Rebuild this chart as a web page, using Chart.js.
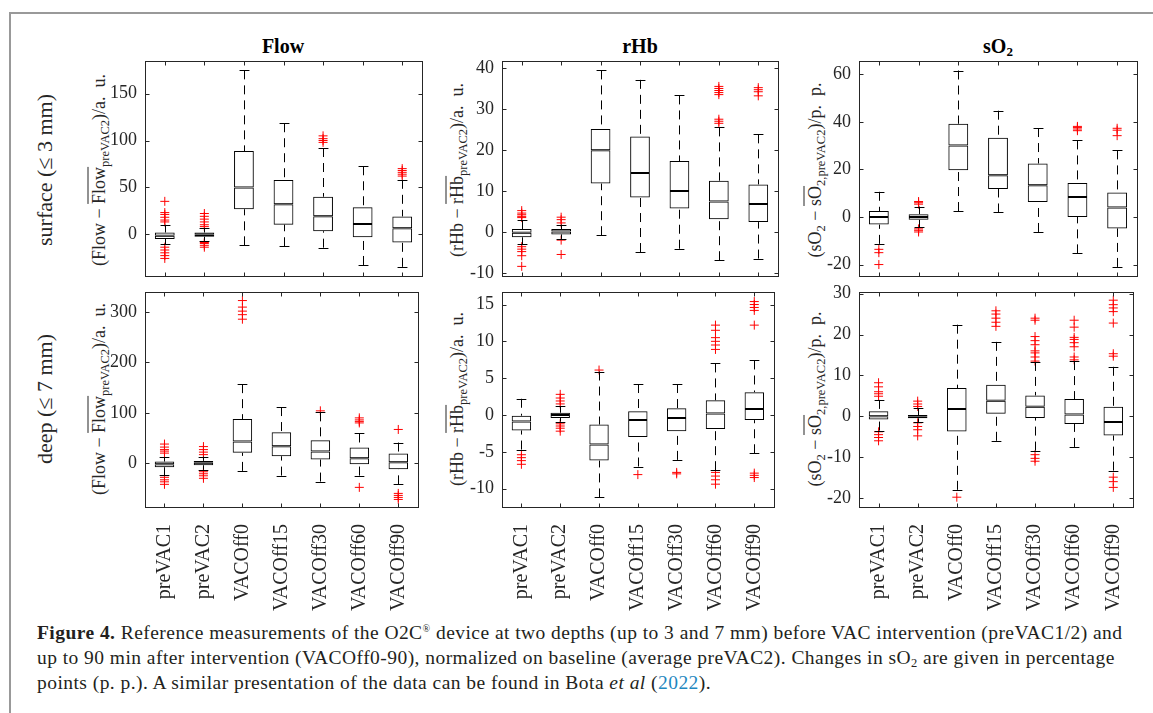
<!DOCTYPE html>
<html>
<head>
<meta charset="utf-8">
<script src="https://cdn.jsdelivr.net/npm/chart.js@4.4.1/dist/chart.umd.min.js"></script>
<style>
  html, body { margin: 0; padding: 0; background: #fff; overflow: hidden; width: 1153px; height: 713px; }
  #frame { position: absolute; left: 9px; top: 12px; width: 1300px; height: 900px; border-left: 2px solid #999; border-top: 2px solid #999; }
  canvas.panel { position: absolute; }
  .rot { position: absolute; font-family: 'Liberation Serif', serif; color: #262626; white-space: nowrap;
         transform: translate(-50%, -50%) rotate(-90deg); }
  .ytitle { font-size: 18px; }
  .ytitle sub { font-size: 12.5px; vertical-align: -4px; line-height: 0; }
  .ol { text-decoration: overline; }
  .row { font-size: 22px; }
  .ptitle { position: absolute; font-family: 'Liberation Serif', serif; font-weight: bold; font-size: 20px; color: #000;
            transform: translate(-50%, -50%); white-space: nowrap; }
  .ptitle sub { font-size: 13px; vertical-align: -3px; line-height: 0; }
  #caption { position: absolute; left: 37px; top: 620px; font-family: 'Liberation Serif', serif; font-size: 19.5px;
             letter-spacing: 0.45px; line-height: 25px; color: #231f20; white-space: nowrap; }
  #caption sub { font-size: 12.5px; vertical-align: -3px; line-height: 0; }
  #caption sup { font-size: 10px; vertical-align: 7px; line-height: 0; }
  #caption a { color: #1f87c0; text-decoration: none; }
</style>
</head>
<body>
<div id="frame"></div>

<div class="ptitle" style="left:283px; top:46px;">Flow</div>
<div class="ptitle" style="left:640px; top:46px;">rHb</div>
<div class="ptitle" style="left:998px; top:46px;">sO<sub>2</sub></div>

<div class="rot row" style="left:45px; top:170px;">surface (&le; 3 mm)</div>
<div class="rot row" style="left:45px; top:399px;">deep (&le; 7 mm)</div>

<div class="rot ytitle" style="left:99px; top:170px;">(Flow &minus; <span class="ol">Flow</span><sub>preVAC2</sub>)/a.&nbsp; u.</div>
<div class="rot ytitle" style="left:457px; top:170px;">(rHb &minus; <span class="ol">rHb</span><sub>preVAC2</sub>)/a.&nbsp; u.</div>
<div class="rot ytitle" style="left:815px; top:170px;">(sO<sub>2</sub> &minus; <span class="ol">sO</span><sub>2,preVAC2</sub>)/p.&nbsp; p.</div>
<div class="rot ytitle" style="left:99px; top:399px;">(Flow &minus; <span class="ol">Flow</span><sub>preVAC2</sub>)/a.&nbsp; u.</div>
<div class="rot ytitle" style="left:457px; top:399px;">(rHb &minus; <span class="ol">rHb</span><sub>preVAC2</sub>)/a.&nbsp; u.</div>
<div class="rot ytitle" style="left:815px; top:399px;">(sO<sub>2</sub> &minus; <span class="ol">sO</span><sub>2,preVAC2</sub>)/p.&nbsp; p.</div>

<div id="caption"><b>Figure 4.</b> Reference measurements of the O2C<sup>&reg;</sup> device at two depths (up to 3 and 7 mm) before VAC intervention (preVAC1/2) and<br>up to 90 min after intervention (VACOff0-90), normalized on baseline (average preVAC2). Changes in sO<sub>2</sub> are given in percentage<br>points (p. p.). A similar presentation of the data can be found in Bota <i>et al</i> (<a>2022</a>).</div>

<script>
const categories = ['preVAC1', 'preVAC2', 'VACOff0', 'VACOff15', 'VACOff30', 'VACOff60', 'VACOff90'];

// box stats per category: [lower whisker, q1, median, q3, upper whisker]
const flowSurface = [[-11, -5.2, -1.7, 1.7, 10], [-7, -2.8, -0.7, 1.7, 6], [-12, 26.6, 49.7, 88.8, 175],
  [-13, 10.1, 31.8, 57.7, 118.5], [-14.5, 3.1, 19.2, 39.9, 92], [-33, -3.5, 10.8, 28.7, 72.5], [-35, -9.1, 6.3, 18.9, 58]];
const flowSurfaceOut = [[35, 23, 21, 18, 15, 13, -14, -17, -20, -23, -26], [22, 19, 16, 13, 10, 8, -9, -10, -12, -14],
  [], [], [98, 100, 102, 105], [], [62, 64, 66, 68, 70]];
const flowSurfaceTicks = [0, 50, 100, 150];

const rhbSurface = [[-3, -1.3, -0.2, 0.7, 2.8], [-1.7, -0.6, 0.1, 0.7, 1.8], [-0.8, 11.8, 19.9, 25.1, 39.4],
  [-4.9, 8.4, 14.4, 23.3, 37.1], [-4.1, 5.7, 10, 17.3, 33.3], [-6.9, 3.1, 7.4, 12.5, 25.5], [-6.5, 2.4, 6.8, 11.6, 23.8]];
const rhbSurfaceOut = [[5.2, 4.6, 4.2, 3.8, 3.5, -3.6, -4.2, -4.8, -5.8, -8.4], [3.6, 3, 2.2, -2, -5.5],
  [], [], [], [26.5, 27, 27.5, 33.5, 34, 34.5, 35, 35.5], [33.2, 34.2, 34.7, 35.2]];
const rhbSurfaceTicks = [-10, 0, 10, 20, 30, 40];

const so2Surface = [[-11.3, -3.2, 0, 2.5, 10.6], [-4.3, -1.2, 0, 1.2, 4.4], [2.5, 19.7, 30.1, 39.2, 61.6],
  [1.9, 11.8, 17.6, 33.3, 44.7], [-6.3, 6.3, 13.3, 22.5, 37.4], [-15.3, 0, 8.4, 14.3, 32.2], [-21, -4.8, 4, 10.3, 28]];
const so2SurfaceOut = [[-13.6, -15, -20], [5.4, 6, 6.5, -5, -5.6, -6.3], [], [], [], [36.3, 37, 37.6, 38.1], [34.2, 36.5, 37.3]];
const so2SurfaceTicks = [-20, 0, 20, 40, 60];

const flowDeep = [[-24, -8, -2, 3.3, 12], [-13, -4, 0.7, 4.6, 13], [-15.3, 20.6, 43.1, 87.6, 157],
  [-24.6, 13.9, 33.8, 61.7, 111.5], [-36.5, 7.3, 23.2, 45.8, 101], [-24.6, -2, 10, 31.2, 59], [-42, -12, 2, 19.2, 41]];
const flowDeepOut = [[20, 24, 27, 32, 38, -28, -33, -37, -42], [17, 22, 27, 33, -17, -21, -25, -30],
  [286, 295, 302, 310, 323], [], [104], [80, 83, 86, 90, -48], [67, -60, -64, -68, -72]];
const flowDeepTicks = [0, 100, 200, 300];

const rhbDeep = [[-4.7, -2.1, -0.9, -0.1, 2.2], [-0.9, -0.4, 0, 0.3, 1.2], [-11.2, -6.2, -4, -1.3, 5.9],
  [-7, -3, -0.7, 0.5, 4.2], [-6.1, -2.2, -0.4, 0.9, 4.2], [-7.5, -1.9, 0.2, 2, 7], [-5.2, -0.7, 0.8, 3.1, 7.4]];
const rhbDeepOut = [[-5.4, -5.8, -6.2, -6.7], [1.5, 1.9, 2.3, 2.8, -1.2, -1.5, -1.8, -2.2], [6.1], [-8.1], [-7.8, -8],
  [8.9, 9.5, 10, 10.5, 11.5, 12.2, -7.8, -8.3, -8.8, -9.4], [12.2, 14.2, 14.6, 15, 15.4, -7.9, -8.2, -8.5]];
const rhbDeepTicks = [-10, -5, 0, 5, 10, 15];

const so2Deep = [[-3.5, -0.8, 0, 1.2, 4], [-1.4, -0.5, 0, 0.3, 2], [-18, -3.7, 1.8, 6.9, 22.4],
  [-6, 0.6, 3.8, 7.7, 18.2], [-8.4, -0.4, 2.3, 5.1, 13.3], [-7.5, -1.9, 0.4, 4.2, 13.5], [-13.3, -4.7, -1.4, 2.3, 12.1]];
const so2DeepOut = [[4.9, 5.5, 6, 7.2, 8.2, -3.8, -4.5, -5.2, -6], [2.4, 3, 3.7, -1.6, -2.5, -3.3, -4.8], [-19.8],
  [22, 23, 24, 25, 25.8], [13.5, 14.5, 15.5, 16, 17.5, 18.5, 19.5, 23.5, 24, -9.4, -10.3, -11],
  [13.8, 14.5, 17, 18, 18.8, 19.3, 21.8, 23.5], [14.7, 15.3, 22.8, 25.6, 26.5, 27.3, 28.4, -14.9, -16, -17.4]];
const so2DeepTicks = [-20, -10, 0, 10, 20, 30];

// draws whiskers, the axes box and MATLAB-style inward ticks
const boxExtras = {
  id: 'boxExtras',
  afterDatasetsDraw(chart, args, opts) {
    const { ctx, chartArea: a, scales: { x, y } } = chart;
    const bars = chart.getDatasetMeta(0).data;
    ctx.save();
    ctx.lineWidth = 1;
    ctx.strokeStyle = '#000';
    opts.stats.forEach((s, i) => {
      const px = Math.round(x.getPixelForValue(i)) + 0.5;
      const half = bars[i].width / 4;
      ctx.setLineDash([9, 6]);
      ctx.beginPath();
      ctx.moveTo(px, y.getPixelForValue(s[4])); ctx.lineTo(px, y.getPixelForValue(s[3]));
      ctx.moveTo(px, y.getPixelForValue(s[0])); ctx.lineTo(px, y.getPixelForValue(s[1]));
      ctx.stroke();
      ctx.setLineDash([]);
      ctx.beginPath();
      [s[0], s[4]].forEach(v => {
        const py = Math.round(y.getPixelForValue(v)) + 0.5;
        ctx.moveTo(px - half, py); ctx.lineTo(px + half, py);
      });
      ctx.stroke();
    });
    ctx.strokeStyle = '#262626';
    const l = Math.round(a.left) + 0.5, r = Math.round(a.right) + 0.5;
    const t = Math.round(a.top) + 0.5, b = Math.round(a.bottom) + 0.5;
    ctx.strokeRect(l, t, r - l, b - t);
    ctx.beginPath();
    y.ticks.forEach(tk => {
      const py = Math.round(y.getPixelForValue(tk.value)) + 0.5;
      ctx.moveTo(l, py); ctx.lineTo(l + 4, py);
      ctx.moveTo(r, py); ctx.lineTo(r - 4, py);
    });
    categories.forEach((c, i) => {
      const px = Math.round(x.getPixelForValue(i)) + 0.5;
      ctx.moveTo(px, b); ctx.lineTo(px, b - 4);
      ctx.moveTo(px, t); ctx.lineTo(px, t + 4);
    });
    ctx.stroke();
    ctx.restore();
  }
};

const panels = [
  { stats: flowSurface, out: flowSurfaceOut, ticks: flowSurfaceTicks, min: -45, max: 185, left: 145, top: 61, w: 277, h: 219, bottom: false },
  { stats: rhbSurface, out: rhbSurfaceOut, ticks: rhbSurfaceTicks, min: -10.8, max: 41.7, left: 502, top: 61, w: 276, h: 219, bottom: false },
  { stats: so2Surface, out: so2SurfaceOut, ticks: so2SurfaceTicks, min: -24.9, max: 65.6, left: 859, top: 61, w: 278, h: 219, bottom: false },
  { stats: flowDeep, out: flowDeepOut, ticks: flowDeepTicks, min: -87, max: 340, left: 145, top: 292, w: 277, h: 215, bottom: true },
  { stats: rhbDeep, out: rhbDeepOut, ticks: rhbDeepTicks, min: -12.5, max: 16.7, left: 502, top: 292, w: 276, h: 215, bottom: true },
  { stats: so2Deep, out: so2DeepOut, ticks: so2DeepTicks, min: -22.2, max: 30.4, left: 859, top: 292, w: 278, h: 215, bottom: true }
];

panels.forEach(p => {
  const xh = p.bottom ? 110 : 15;
  const canvas = document.createElement('canvas');
  canvas.className = 'panel';
  canvas.width = p.w + 120;
  canvas.height = p.h + 40 + xh;
  canvas.style.left = (p.left - 110) + 'px';
  canvas.style.top = (p.top - 40) + 'px';
  document.body.appendChild(canvas);

  const boxStyle = {
    type: 'bar', grouped: false, borderColor: '#000', borderWidth: 1, borderSkipped: false,
    backgroundColor: 'rgba(0,0,0,0)', barPercentage: 0.5, categoryPercentage: 1
  };

  new Chart(canvas, {
    type: 'bar',
    data: {
      labels: categories,
      datasets: [
        { ...boxStyle, data: p.stats.map(s => [s[1], s[2]]) },
        { ...boxStyle, data: p.stats.map(s => [s[2], s[3]]) },
        {
          type: 'scatter',
          data: p.out.flatMap((vals, i) => vals.map(v => ({ x: categories[i], y: v }))),
          pointStyle: 'cross', radius: 4.5, borderColor: '#ff0000', borderWidth: 1, backgroundColor: '#ff0000'
        }
      ]
    },
    options: {
      responsive: false,
      animation: false,
      devicePixelRatio: 1,
      layout: { padding: { left: 0, right: 10, top: 40, bottom: 0 } },
      plugins: { legend: { display: false }, tooltip: { enabled: false }, boxExtras: { stats: p.stats } },
      scales: {
        x: {
          type: 'category',
          offset: true,
          grid: { display: false },
          border: { display: false },
          ticks: {
            display: p.bottom, autoSkip: false, minRotation: 90, maxRotation: 90, padding: 9,
            color: '#262626', font: { family: 'Liberation Serif', size: 20 }
          },
          afterFit: s => { s.height = xh; }
        },
        y: {
          type: 'linear',
          min: p.min,
          max: p.max,
          grid: { display: false, drawTicks: false },
          border: { display: false },
          ticks: { padding: 8, color: '#262626', font: { family: 'Liberation Serif', size: 18 } },
          afterBuildTicks: s => { s.ticks = p.ticks.map(v => ({ value: v })); },
          afterFit: s => { s.width = 110; }
        }
      }
    },
    plugins: [boxExtras]
  });
});
</script>
</body>
</html>
